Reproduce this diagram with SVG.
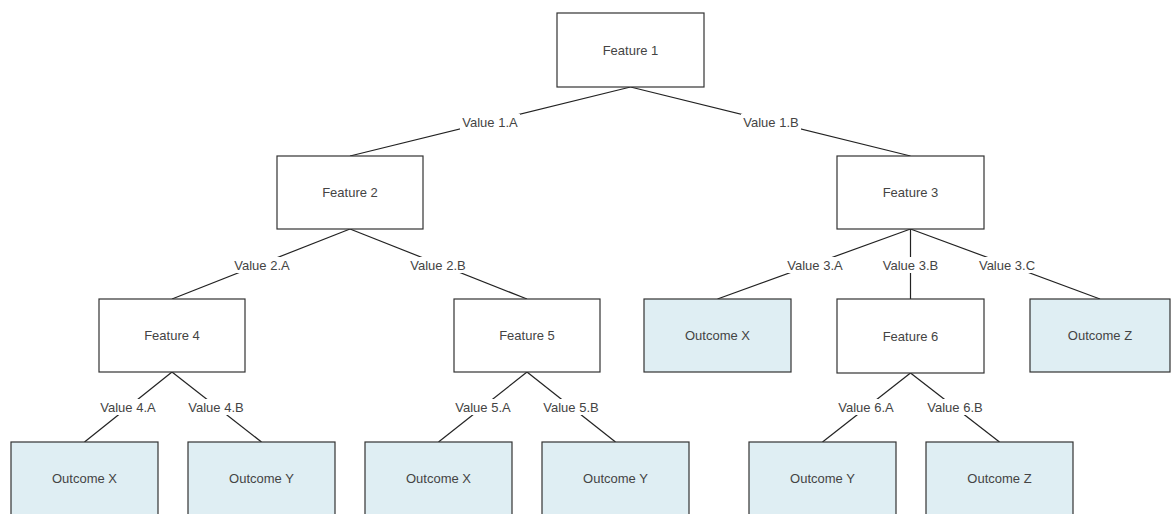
<svg xmlns="http://www.w3.org/2000/svg" width="1171" height="514" viewBox="0 0 1171 514">
<style>
.n{fill:#ffffff;stroke:#333333;stroke-width:1.2}
.o{fill:#dfeef3;stroke:#333333;stroke-width:1.2}
.t{font-family:"Liberation Sans",Arial,sans-serif;font-size:13px;fill:#444444;text-anchor:middle;dominant-baseline:central}
.e{stroke:#222222;stroke-width:1.2;fill:none}
.lb{fill:#ffffff}
</style>
<rect width="1171" height="514" fill="#ffffff"/>
<g id="connectors">
<line class="e" x1="630.5" y1="87" x2="350" y2="156"/>
<line class="e" x1="630.5" y1="87" x2="910.5" y2="156"/>
<line class="e" x1="350" y1="229" x2="172" y2="299"/>
<line class="e" x1="350" y1="229" x2="527" y2="299"/>
<line class="e" x1="910.5" y1="229" x2="717.5" y2="299"/>
<line class="e" x1="910.5" y1="229" x2="910.5" y2="299"/>
<line class="e" x1="910.5" y1="229" x2="1100" y2="299"/>
<line class="e" x1="172" y1="372" x2="84.5" y2="442"/>
<line class="e" x1="172" y1="372" x2="261.5" y2="442"/>
<line class="e" x1="527" y1="372" x2="438.5" y2="442"/>
<line class="e" x1="527" y1="372" x2="615.5" y2="442"/>
<line class="e" x1="910.5" y1="373" x2="822.5" y2="442"/>
<line class="e" x1="910.5" y1="373" x2="999.5" y2="442"/>
<g id="labels">
<rect class="lb" x="460" y="114" width="60" height="16"/><text class="t" x="490" y="122">Value 1.A</text>
<rect class="lb" x="741" y="114" width="60" height="16"/><text class="t" x="771" y="122">Value 1.B</text>
<rect class="lb" x="232" y="257" width="60" height="16"/><text class="t" x="262" y="265">Value 2.A</text>
<rect class="lb" x="408" y="257" width="60" height="16"/><text class="t" x="438" y="265">Value 2.B</text>
<rect class="lb" x="785" y="257" width="60" height="16"/><text class="t" x="815" y="265">Value 3.A</text>
<rect class="lb" x="880" y="257" width="60" height="16"/><text class="t" x="910.5" y="265">Value 3.B</text>
<rect class="lb" x="976" y="257" width="62" height="16"/><text class="t" x="1007" y="265">Value 3.C</text>
<rect class="lb" x="98" y="399" width="60" height="16"/><text class="t" x="128" y="407">Value 4.A</text>
<rect class="lb" x="186" y="399" width="60" height="16"/><text class="t" x="216" y="407">Value 4.B</text>
<rect class="lb" x="453" y="399" width="60" height="16"/><text class="t" x="483" y="407">Value 5.A</text>
<rect class="lb" x="541" y="399" width="60" height="16"/><text class="t" x="571" y="407">Value 5.B</text>
<rect class="lb" x="836" y="399" width="60" height="16"/><text class="t" x="866" y="407">Value 6.A</text>
<rect class="lb" x="925" y="399" width="60" height="16"/><text class="t" x="955" y="407">Value 6.B</text>
</g>
</g>
<g id="feature1"><rect class="n" x="557" y="13" width="147" height="74"/><text class="t" x="630.5" y="50">Feature 1</text></g>
<g id="feature2"><rect class="n" x="277" y="156" width="146" height="73"/><text class="t" x="350" y="192.5">Feature 2</text></g>
<g id="feature3"><rect class="n" x="837" y="156" width="147" height="73"/><text class="t" x="910.5" y="192.5">Feature 3</text></g>
<g id="feature4"><rect class="n" x="99" y="299" width="146" height="73"/><text class="t" x="172" y="335.5">Feature 4</text></g>
<g id="feature5"><rect class="n" x="454" y="299" width="146" height="73"/><text class="t" x="527" y="335.5">Feature 5</text></g>
<g id="outcome3a"><rect class="o" x="644" y="299" width="147" height="73"/><text class="t" x="717.5" y="335.5">Outcome X</text></g>
<g id="feature6"><rect class="n" x="837" y="299" width="147" height="74"/><text class="t" x="910.5" y="336">Feature 6</text></g>
<g id="outcome3c"><rect class="o" x="1030" y="299" width="140" height="73"/><text class="t" x="1100" y="335.5">Outcome Z</text></g>
<g id="outcome4a"><rect class="o" x="11" y="442" width="147" height="78"/><text class="t" x="84.5" y="478.5">Outcome X</text></g>
<g id="outcome4b"><rect class="o" x="188" y="442" width="147" height="78"/><text class="t" x="261.5" y="478.5">Outcome Y</text></g>
<g id="outcome5a"><rect class="o" x="365" y="442" width="147" height="78"/><text class="t" x="438.5" y="478.5">Outcome X</text></g>
<g id="outcome5b"><rect class="o" x="542" y="442" width="147" height="78"/><text class="t" x="615.5" y="478.5">Outcome Y</text></g>
<g id="outcome6a"><rect class="o" x="749" y="442" width="147" height="78"/><text class="t" x="822.5" y="478.5">Outcome Y</text></g>
<g id="outcome6b"><rect class="o" x="926" y="442" width="147" height="78"/><text class="t" x="999.5" y="478.5">Outcome Z</text></g>
</svg>
